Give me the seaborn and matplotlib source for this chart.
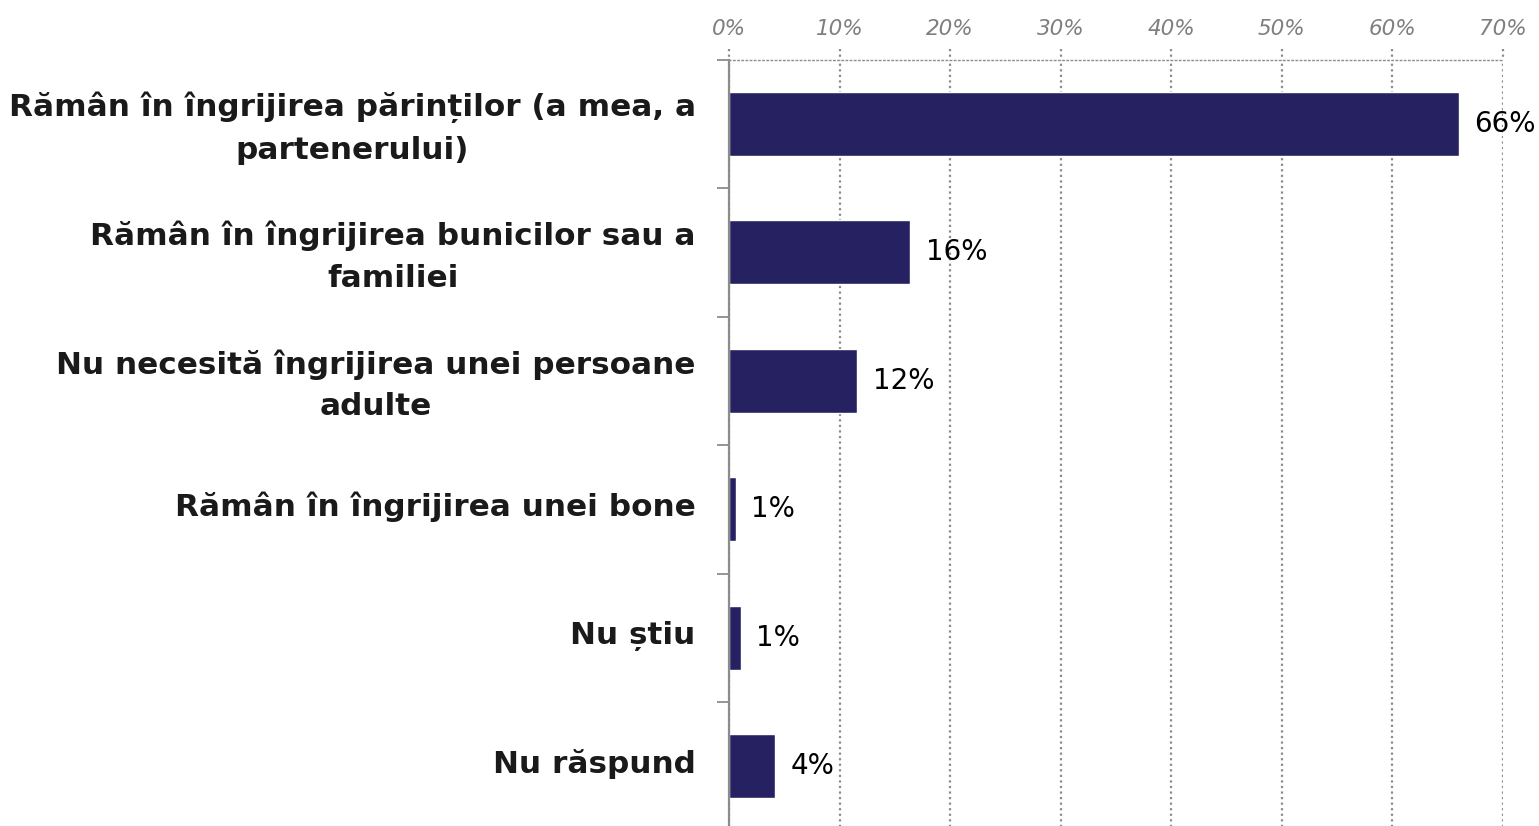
import numpy as np
import pandas as pd
import matplotlib
matplotlib.use("Agg")
import matplotlib.pyplot as plt
import matplotlib.transforms as mtransforms
import seaborn as sns
from matplotlib.ticker import PercentFormatter, FixedLocator

# Data
categories = [
    "Rămân în îngrijirea părinților (a mea, a\npartenerului)",
    "Rămân în îngrijirea bunicilor sau a\nfamiliei",
    "Nu necesită îngrijirea unei persoane\nadulte",
    "Rămân în îngrijirea unei bone",
    "Nu știu",
    "Nu răspund",
]
values = [66.0, 16.4, 11.6, 0.6, 1.1, 4.2]
value_labels = ["66%", "16%", "12%", "1%", "1%", "4%"]
xticks = [0, 10, 20, 30, 40, 50, 60, 70]

df = pd.DataFrame({"Category": categories, "Value": values})

sns.set_style("white")
plt.rcParams["font.family"] = ["DejaVu Sans"]

fig = plt.figure(figsize=(15.39, 8.26), dpi=100)
ax = fig.add_axes([729 / 1539, -4.5 / 826, (1503 - 729) / 1539, (831 - 60) / 826])

sns.barplot(data=df, x="Value", y="Category", color="#262262", width=0.5,
            saturation=1, ax=ax, orient="h")

ax.set_xlim(0, 70)
ax.set_ylim(5.5, -0.5)

# percentage axis on top, grey italic
ax.xaxis.tick_top()
ax.xaxis.set_major_locator(FixedLocator(xticks))
ax.xaxis.set_major_formatter(PercentFormatter(decimals=0))
ax.tick_params(axis="x", length=0, pad=15, labelsize=15.5, labelcolor="#7f7f7f")
for t in ax.get_xticklabels():
    t.set_fontstyle("italic")

ax.grid(axis="x", linestyle=(0, (1, 1.5)), color="#8c8c8c", linewidth=1.6)
ax.set_axisbelow(True)
# dotted gridlines poke a little above the top line
ax.vlines(xticks, -0.58, -0.5, colors="#8c8c8c", linestyles=(0, (1, 1.5)),
          linewidth=1.6, clip_on=False)

# category labels, centered lines, right aligned block
ax.tick_params(axis="y", length=0, pad=24, labelsize=22.4, labelcolor="#1a1a1a")
ax.set_yticks(range(len(categories)))
ax.set_yticklabels(categories, fontweight="bold", ha="right",
                   multialignment="center", linespacing=1.55)
# nudge labels up a touch
shift = mtransforms.ScaledTranslation(0, 0.05, fig.dpi_scale_trans)
for t in ax.get_yticklabels():
    t.set_transform(t.get_transform() + shift)

# boundary tick marks on the left
ax.set_yticks(np.arange(-0.5, len(categories), 1), minor=True)
ax.tick_params(axis="y", which="minor", left=True, length=9, width=1.3,
               color="#8c8c8c", direction="out")

for s in ["right", "bottom"]:
    ax.spines[s].set_visible(False)
ax.spines["left"].set_color("#8c8c8c")
ax.spines["left"].set_linewidth(1.6)
ax.spines["top"].set_color("#8c8c8c")
ax.spines["top"].set_linestyle((0, (1, 2)))
ax.spines["top"].set_linewidth(1.0)

ax.bar_label(ax.containers[0], labels=value_labels, padding=11, fontsize=20,
             color="black")

ax.set_xlabel("")
ax.set_ylabel("")

fig.savefig("out.png", dpi=100)
